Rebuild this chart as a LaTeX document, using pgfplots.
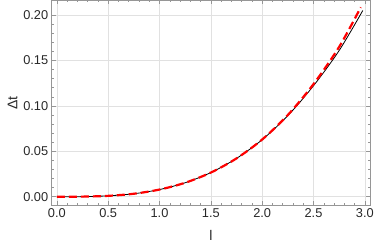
\documentclass[border=0pt]{standalone}
\usepackage{fontspec}
\setmainfont{Liberation Sans}
\usepackage{pgfplots}
\pgfplotsset{compat=1.18}
\definecolor{framegray}{RGB}{150,150,150}
\definecolor{gridgray}{RGB}{225,225,225}
\definecolor{labelgray}{RGB}{40,40,40}
\begin{document}
\begin{tikzpicture}
\useasboundingbox (-51.7pt,-44pt) rectangle (322.3pt,205pt);
\begin{axis}[
  at={(0,0)}, anchor=south west,
  scale only axis,
  width=318.3pt, height=204.5pt,
  xmin=-0.05, xmax=3.05,
  ymin=-0.0091, ymax=0.216,
  xtick={0,0.5,...,3.0},
  ytick={0,0.05,...,0.2},
  minor x tick num=4,
  minor y tick num=4,
  tick align=inside,
  major tick length=4pt,
  minor tick length=2pt,
  every tick/.style={framegray, line width=0.5pt},
  axis line style={framegray, line width=0.6pt},
  grid=major,
  major grid style={gridgray, line width=0.6pt},
  tick label style={font=\fontsize{12.8}{13}\selectfont, color=labelgray},
  /pgf/number format/assume math mode=true,
  xticklabel style={/pgf/number format/.cd, fixed, fixed zerofill, precision=1},
  yticklabel style={/pgf/number format/.cd, fixed, fixed zerofill, precision=2},
  scaled y ticks=false,
  xlabel={l},
  ylabel={Δt},
  label style={font=\fontsize{14}{14}\selectfont, color=labelgray},
  xlabel style={yshift=-6pt},
  ylabel style={yshift=-1pt},
  clip=true,
]
\addplot[black, line width=0.8pt, smooth] coordinates {
(0,0) (0.25,0.00012) (0.5,0.00098) (0.75,0.0033) (1.0,0.0079) (1.25,0.0154)
(1.5,0.0266) (1.75,0.0422) (2.0,0.0628) (2.25,0.0893) (2.5,0.1222)
(2.75,0.1610) (2.98,0.2050)
};
\addplot[red, line width=2.2pt, smooth, dash pattern=on 8pt off 4pt] coordinates {
(0,0) (0.25,0.00012) (0.5,0.00098) (0.75,0.0033) (1.0,0.0079) (1.25,0.0154)
(1.5,0.0266) (1.75,0.0422) (2.0,0.0630) (2.25,0.0900) (2.5,0.1240)
(2.75,0.1650) (2.96,0.2085)
};
\end{axis}
\end{tikzpicture}
\end{document}
